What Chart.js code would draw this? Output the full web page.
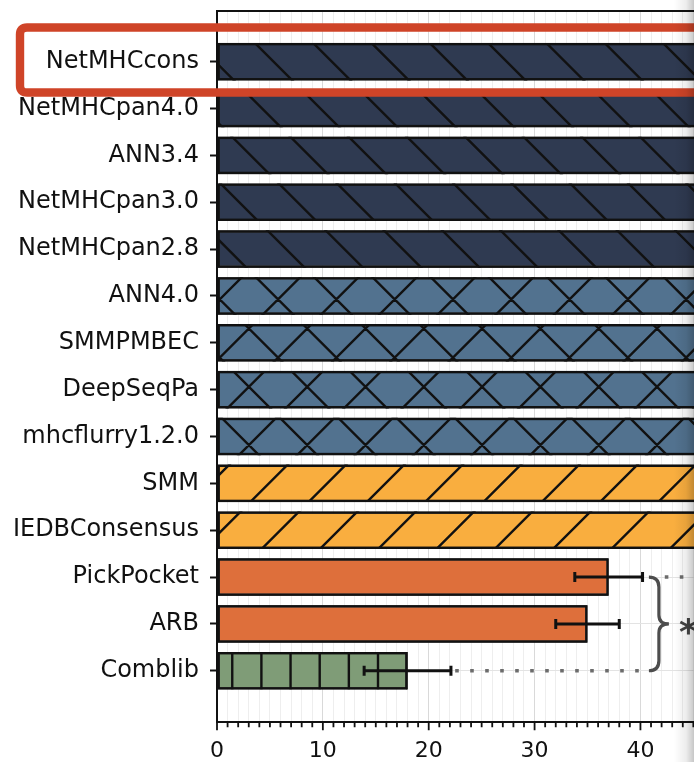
<!DOCTYPE html>
<html>
<head>
<meta charset="utf-8">
<script src="https://cdn.jsdelivr.net/npm/chart.js@4.4.1/dist/chart.umd.min.js"></script>
<style>
  html, body { margin: 0; padding: 0; background: #ffffff; overflow: hidden; }
  #wrap { width: 694px; height: 762px; position: relative; }
</style>
</head>
<body>
<div id="wrap"><canvas id="c" width="694" height="762"></canvas></div>
<script>
// Methods, top to bottom
const methods = ['NetMHCcons', 'NetMHCpan4.0', 'ANN3.4', 'NetMHCpan3.0', 'NetMHCpan2.8',
  'ANN4.0', 'SMMPMBEC', 'DeepSeqPa', 'mhcflurry1.2.0', 'SMM', 'IEDBConsensus',
  'PickPocket', 'ARB', 'Comblib'];
// Score per method (top eleven run past the visible range)
const scores = [62, 61, 60, 59, 58, 56, 55, 54, 53, 51, 49, 37, 35, 18];
// Error bar half-widths (null = none shown)
const errors = [null, null, null, null, null, null, null, null, null, null, null, 3.2, 3.0, 4.1];
// Performance tier of each method
const tiers = [1, 1, 1, 1, 1, 2, 2, 2, 2, 3, 3, 4, 4, 5];
// Labelled x ticks
const xTickLabels = [0, 10, 20, 30, 40];
// Significance bracket
const comparison = { from: 'PickPocket', to: 'Comblib', mark: '*' };

const tierStyle = {
  1: { color: '#2f3a51', hatch: 'back' },
  2: { color: '#52728f', hatch: 'cross' },
  3: { color: '#f9ae3f', hatch: 'fwd' },
  4: { color: '#de6f3b', hatch: null },
  5: { color: '#7f9c77', hatch: 'vert' }
};

const FONT = 'DejaVu Sans';
const HATCH_P = 58.3;

function hatchBar(ctx, r, kind) {
  ctx.save();
  ctx.beginPath();
  ctx.rect(r.left, r.top, r.right - r.left, r.bottom - r.top);
  ctx.clip();
  ctx.strokeStyle = '#111';
  ctx.lineWidth = 2.4;
  ctx.beginPath();
  const back = () => {
    const c = 37;
    const k0 = Math.floor((r.left - r.bottom - c) / HATCH_P) - 1;
    const k1 = Math.ceil((r.right - r.top - c) / HATCH_P) + 1;
    for (let k = k0; k <= k1; k++) {
      ctx.moveTo(r.top + c + k * HATCH_P - 2, r.top - 2);
      ctx.lineTo(r.bottom + c + k * HATCH_P + 2, r.bottom + 2);
    }
  };
  const fwd = () => {
    const c = 52.7;
    const k0 = Math.floor((r.left + r.top - c) / HATCH_P) - 1;
    const k1 = Math.ceil((r.right + r.bottom - c) / HATCH_P) + 1;
    for (let k = k0; k <= k1; k++) {
      ctx.moveTo(c + k * HATCH_P - r.top + 2, r.top - 2);
      ctx.lineTo(c + k * HATCH_P - r.bottom - 2, r.bottom + 2);
    }
  };
  if (kind === 'back') back();
  if (kind === 'fwd') fwd();
  if (kind === 'cross') { back(); fwd(); }
  if (kind === 'vert') {
    const p = HATCH_P / 2, c = 28.2;
    for (let x = c + Math.floor((r.left - c) / p) * p; x <= r.right; x += p) {
      if (x <= r.left + 1) continue;
      ctx.moveTo(x, r.top);
      ctx.lineTo(x, r.bottom);
    }
  }
  ctx.stroke();
  ctx.restore();
  // edge back on top of the hatch
  ctx.save();
  ctx.strokeStyle = '#111';
  ctx.lineWidth = 2.4;
  ctx.strokeRect(r.left + 1.2, r.top + 1.2, r.right - r.left - 2.4, r.bottom - r.top - 2.4);
  ctx.restore();
}

const decorPlugin = {
  id: 'decor',
  afterDatasetsDraw(chart) {
    const ctx = chart.ctx, area = chart.chartArea;
    const xs = chart.scales.x, ys = chart.scales.y;
    const meta = chart.getDatasetMeta(0);

    ctx.save();
    ctx.beginPath();
    ctx.rect(area.left, area.top, area.right - area.left, area.bottom - area.top);
    ctx.clip();

    // hatching and edges
    meta.data.forEach((bar, i) => {
      const p = bar.getProps(['x', 'y', 'base', 'height'], true);
      const r = {
        left: Math.min(p.base, p.x), right: Math.max(p.base, p.x),
        top: p.y - p.height / 2, bottom: p.y + p.height / 2
      };
      hatchBar(ctx, r, tierStyle[tiers[i]].hatch);
    });

    // error bars
    ctx.strokeStyle = '#111';
    ctx.lineWidth = 3;
    errors.forEach((e, i) => {
      if (e == null) return;
      const y = ys.getPixelForValue(i);
      const x1 = xs.getPixelForValue(scores[i] - e);
      const x2 = xs.getPixelForValue(scores[i] + e);
      ctx.beginPath();
      ctx.moveTo(x1, y); ctx.lineTo(x2, y);
      ctx.moveTo(x1, y - 5); ctx.lineTo(x1, y + 5);
      ctx.moveTo(x2, y - 5); ctx.lineTo(x2, y + 5);
      ctx.stroke();
    });

    // significance bracket
    const iA = methods.indexOf(comparison.from), iB = methods.indexOf(comparison.to);
    const yA = ys.getPixelForValue(iA), yB = ys.getPixelForValue(iB);
    const x0 = xs.getPixelForValue(40.8);
    const xv = x0 + 10, tip = x0 + 20, mid = (yA + yB) / 2;

    ctx.strokeStyle = '#6c6c6c';
    ctx.lineWidth = 3.6;
    ctx.setLineDash([3.6, 11.4]);
    ctx.beginPath();
    ctx.moveTo(xs.getPixelForValue(scores[iB] + errors[iB] + 0.4), yB);
    ctx.lineTo(x0, yB);
    ctx.moveTo(xs.getPixelForValue(42.3), yA);
    ctx.lineTo(area.right + 20, yA);
    ctx.stroke();
    ctx.setLineDash([]);

    ctx.strokeStyle = '#4d4d4d';
    ctx.lineWidth = 3.2;
    ctx.beginPath();
    ctx.moveTo(x0, yA);
    ctx.quadraticCurveTo(xv, yA, xv, yA + 10);
    ctx.lineTo(xv, mid - 9);
    ctx.quadraticCurveTo(xv, mid, tip, mid);
    ctx.quadraticCurveTo(xv, mid, xv, mid + 9);
    ctx.lineTo(xv, yB - 10);
    ctx.quadraticCurveTo(xv, yB, x0, yB);
    ctx.stroke();

    ctx.fillStyle = '#444';
    ctx.font = 'bold 36px "' + FONT + '"';
    ctx.textAlign = 'left';
    ctx.textBaseline = 'alphabetic';
    ctx.fillText(comparison.mark, tip + 10, mid + 20);
    ctx.restore();
  },
  afterDraw(chart) {
    const ctx = chart.ctx, area = chart.chartArea;
    const xs = chart.scales.x, ys = chart.scales.y;
    ctx.save();
    // top spine
    ctx.strokeStyle = '#111';
    ctx.lineWidth = 2;
    ctx.beginPath();
    ctx.moveTo(area.left - 1, area.top);
    ctx.lineTo(area.right, area.top);
    ctx.stroke();
    // x tick marks, long at labelled values
    ctx.lineWidth = 1.8;
    ctx.beginPath();
    xs.ticks.forEach(t => {
      const px = xs.getPixelForValue(t.value);
      const r = Math.round(t.value);
      const major = Math.abs(t.value - r) < 1e-6 && xTickLabels.includes(r);
      ctx.moveTo(px, area.bottom);
      ctx.lineTo(px, area.bottom + (major ? 8 : 5));
    });
    ctx.stroke();

    // highlight box round the leading method
    const cy = ys.getPixelForValue(0);
    const L = 20, T = cy - 34.2, B = cy + 30.8, R = chart.width + 30, rad = 7;
    ctx.strokeStyle = '#cf4428';
    ctx.lineWidth = 8.4;
    ctx.beginPath();
    ctx.moveTo(R, T);
    ctx.lineTo(L + rad, T);
    ctx.quadraticCurveTo(L, T, L, T + rad);
    ctx.lineTo(L, B - rad);
    ctx.quadraticCurveTo(L, B, L + rad, B);
    ctx.lineTo(R, B);
    ctx.stroke();

    // soft shading along the right edge
    const g = ctx.createLinearGradient(chart.width - 20, 0, chart.width, 0);
    g.addColorStop(0, 'rgba(0,0,0,0)');
    g.addColorStop(0.6, 'rgba(0,0,0,0.07)');
    g.addColorStop(1, 'rgba(0,0,0,0.22)');
    ctx.fillStyle = g;
    ctx.fillRect(chart.width - 20, 0, 20, chart.height);
    ctx.restore();
  }
};

new Chart(document.getElementById('c'), {
  type: 'bar',
  data: {
    datasets: [{
      data: methods.map((m, i) => ({ x: scores[i], y: i })),
      backgroundColor: tiers.map(t => tierStyle[t].color),
      borderColor: '#111',
      borderWidth: 2,
      borderSkipped: false,
      barPercentage: 0.8,
      categoryPercentage: 1
    }]
  },
  options: {
    indexAxis: 'y',
    responsive: false,
    animation: false,
    devicePixelRatio: 1,
    layout: { padding: { top: 11, right: 0, bottom: 2, left: 0 } },
    plugins: { legend: { display: false }, tooltip: { enabled: false } },
    scales: {
      x: {
        type: 'linear',
        min: 0,
        max: 45.06,
        offset: false,
        afterFit: s => { s.paddingLeft = 0; s.paddingRight = 0; s.height = 37.7; },
        ticks: {
          stepSize: 1,
          autoSkip: false,
          includeBounds: false,
          maxRotation: 0,
          padding: 16,
          color: '#111',
          font: { family: FONT, size: 22 },
          callback: v => {
            const r = Math.round(v);
            return (Math.abs(v - r) < 1e-6 && xTickLabels.includes(r)) ? String(r) : '';
          }
        },
        grid: {
          offset: false,
          drawTicks: false,
          lineWidth: 1,
          color: c => {
            const v = c.tick ? c.tick.value : 0;
            return Math.abs(v % 10) < 1e-6 ? '#d9d9d9' : '#eeeeee';
          }
        },
        border: { display: true, color: '#111', width: 2 }
      },
      y: {
        type: 'linear',
        reverse: true,
        offset: false,
        min: -1.082,
        max: 14.10,
        afterBuildTicks: s => { s.ticks = methods.map((_, i) => ({ value: i })); },
        afterFit: s => { s.width = 217; s.paddingTop = 0; s.paddingBottom = 0; },
        ticks: {
          autoSkip: false,
          padding: 11,
          color: '#111',
          font: { family: FONT, size: 24 },
          callback: v => methods[Math.round(v)]
        },
        grid: { offset: false, color: '#e3e3e3', lineWidth: 1, tickColor: '#111', tickLength: 7, tickWidth: 2 },
        border: { color: '#111', width: 2 }
      }
    }
  },
  plugins: [decorPlugin]
});
</script>
</body>
</html>
